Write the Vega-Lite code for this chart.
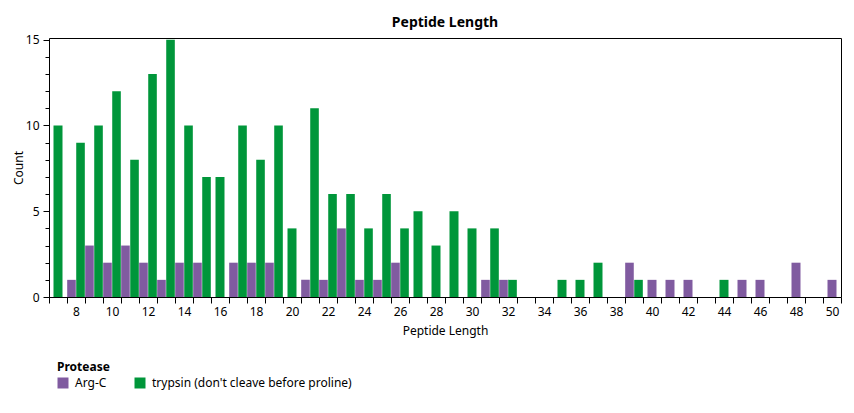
{
  "$schema": "https://vega.github.io/schema/vega-lite/v6.json",
  "width": 792,
  "height": 259,
  "autosize": {"type": "none"},
  "padding": {"left": 49, "top": 38, "right": 13, "bottom": 116},
  "background": "white",
  "title": {"text": "Peptide Length", "fontSize": 14, "fontWeight": "bold", "font": "Noto Sans", "frame": "group", "anchor": "middle", "offset": 4, "color": "black"},
  "data": {
    "values": [
      {"length": 8, "protease": "Arg-C", "count": 1},
      {"length": 9, "protease": "Arg-C", "count": 3},
      {"length": 10, "protease": "Arg-C", "count": 2},
      {"length": 11, "protease": "Arg-C", "count": 3},
      {"length": 12, "protease": "Arg-C", "count": 2},
      {"length": 13, "protease": "Arg-C", "count": 1},
      {"length": 14, "protease": "Arg-C", "count": 2},
      {"length": 15, "protease": "Arg-C", "count": 2},
      {"length": 17, "protease": "Arg-C", "count": 2},
      {"length": 18, "protease": "Arg-C", "count": 2},
      {"length": 19, "protease": "Arg-C", "count": 2},
      {"length": 21, "protease": "Arg-C", "count": 1},
      {"length": 22, "protease": "Arg-C", "count": 1},
      {"length": 23, "protease": "Arg-C", "count": 4},
      {"length": 24, "protease": "Arg-C", "count": 1},
      {"length": 25, "protease": "Arg-C", "count": 1},
      {"length": 26, "protease": "Arg-C", "count": 2},
      {"length": 31, "protease": "Arg-C", "count": 1},
      {"length": 32, "protease": "Arg-C", "count": 1},
      {"length": 39, "protease": "Arg-C", "count": 2},
      {"length": 40, "protease": "Arg-C", "count": 1},
      {"length": 41, "protease": "Arg-C", "count": 1},
      {"length": 42, "protease": "Arg-C", "count": 1},
      {"length": 45, "protease": "Arg-C", "count": 1},
      {"length": 46, "protease": "Arg-C", "count": 1},
      {"length": 48, "protease": "Arg-C", "count": 2},
      {"length": 50, "protease": "Arg-C", "count": 1},
      {"length": 7, "protease": "trypsin (don't cleave before proline)", "count": 10},
      {"length": 8, "protease": "trypsin (don't cleave before proline)", "count": 9},
      {"length": 9, "protease": "trypsin (don't cleave before proline)", "count": 10},
      {"length": 10, "protease": "trypsin (don't cleave before proline)", "count": 12},
      {"length": 11, "protease": "trypsin (don't cleave before proline)", "count": 8},
      {"length": 12, "protease": "trypsin (don't cleave before proline)", "count": 13},
      {"length": 13, "protease": "trypsin (don't cleave before proline)", "count": 15},
      {"length": 14, "protease": "trypsin (don't cleave before proline)", "count": 10},
      {"length": 15, "protease": "trypsin (don't cleave before proline)", "count": 7},
      {"length": 16, "protease": "trypsin (don't cleave before proline)", "count": 7},
      {"length": 17, "protease": "trypsin (don't cleave before proline)", "count": 10},
      {"length": 18, "protease": "trypsin (don't cleave before proline)", "count": 8},
      {"length": 19, "protease": "trypsin (don't cleave before proline)", "count": 10},
      {"length": 20, "protease": "trypsin (don't cleave before proline)", "count": 4},
      {"length": 21, "protease": "trypsin (don't cleave before proline)", "count": 11},
      {"length": 22, "protease": "trypsin (don't cleave before proline)", "count": 6},
      {"length": 23, "protease": "trypsin (don't cleave before proline)", "count": 6},
      {"length": 24, "protease": "trypsin (don't cleave before proline)", "count": 4},
      {"length": 25, "protease": "trypsin (don't cleave before proline)", "count": 6},
      {"length": 26, "protease": "trypsin (don't cleave before proline)", "count": 4},
      {"length": 27, "protease": "trypsin (don't cleave before proline)", "count": 5},
      {"length": 28, "protease": "trypsin (don't cleave before proline)", "count": 3},
      {"length": 29, "protease": "trypsin (don't cleave before proline)", "count": 5},
      {"length": 30, "protease": "trypsin (don't cleave before proline)", "count": 4},
      {"length": 31, "protease": "trypsin (don't cleave before proline)", "count": 4},
      {"length": 32, "protease": "trypsin (don't cleave before proline)", "count": 1},
      {"length": 35, "protease": "trypsin (don't cleave before proline)", "count": 1},
      {"length": 36, "protease": "trypsin (don't cleave before proline)", "count": 1},
      {"length": 37, "protease": "trypsin (don't cleave before proline)", "count": 2},
      {"length": 39, "protease": "trypsin (don't cleave before proline)", "count": 1},
      {"length": 44, "protease": "trypsin (don't cleave before proline)", "count": 1}
    ]
  },
  "transform": [{"joinaggregate": [{"op": "count", "as": "n"}], "groupby": ["length"]}],
  "encoding": {
    "x": {
      "field": "length",
      "type": "ordinal",
      "scale": {"domain": [7,8,9,10,11,12,13,14,15,16,17,18,19,20,21,22,23,24,25,26,27,28,29,30,31,32,33,34,35,36,37,38,39,40,41,42,43,44,45,46,47,48,49,50], "paddingInner": 0, "paddingOuter": 0},
      "axis": {
        "tickBand": "extent",
        "labelExpr": "datum.value % 2 == 0 ? datum.label : ''",
        "labelAngle": 0,
        "title": "Peptide Length",
        "domain": false,
        "tickSize": 6,
        "tickColor": "black",
        "labelFontSize": 12,
        "titleFontSize": 12,
        "titleFontWeight": "normal",
        "labelColor": "black",
        "titleColor": "black",
        "labelPadding": 3,
        "titlePadding": 8
      }
    },
    "color": {
      "field": "protease",
      "type": "nominal",
      "scale": {"domain": ["Arg-C", "trypsin (don't cleave before proline)"], "range": ["#805BA0", "#00963A"]},
      "legend": {
        "orient": "none",
        "legendX": 8,
        "legendY": 324,
        "direction": "horizontal",
        "title": "Protease",
        "titleFontSize": 12,
        "titleFontWeight": "bold",
        "titleColor": "black",
        "labelFontSize": 12,
        "labelColor": "black",
        "labelLimit": 0,
        "symbolType": "square",
        "symbolSize": 121,
        "symbolStrokeWidth": 0,
        "labelOffset": 6,
        "columnPadding": 27,
        "titlePadding": 3
      }
    }
  },
  "layer": [
    {
      "transform": [{"filter": "datum.n == 2"}],
      "mark": {"type": "bar"},
      "encoding": {
        "xOffset": {"field": "protease", "type": "nominal", "scale": {"domain": ["Arg-C", "trypsin (don't cleave before proline)"], "paddingInner": 0.05, "paddingOuter": 0.02}},
        "y": {
          "field": "count",
          "type": "quantitative",
          "scale": {"domain": [0, 15.1], "nice": false},
          "axis": {"orient": "left", "values": [0, 5, 10, 15], "title": "Count", "grid": false, "domain": false, "tickSize": 6, "tickColor": "black", "labelFontSize": 12, "labelColor": "black", "titleFontSize": 12, "titleFontWeight": "normal", "titleColor": "black", "labelPadding": 4, "titlePadding": 0}
        }
      }
    },
    {
      "transform": [{"filter": "datum.n == 1"}],
      "mark": {"type": "bar", "width": {"band": 0.5}},
      "encoding": {
        "y": {
          "field": "count",
          "type": "quantitative",
          "scale": {"domain": [0, 15.1], "nice": false},
          "axis": {"orient": "left", "values": [0,1,2,3,4,5,6,7,8,9,10,11,12,13,14,15], "title": null, "labels": false, "grid": false, "domain": false, "tickSize": 4, "tickColor": "black"}
        }
      }
    }
  ],
  "resolve": {"axis": {"y": "independent"}},
  "config": {"view": {"stroke": "black", "strokeWidth": 1}, "font": "Noto Sans"}
}
